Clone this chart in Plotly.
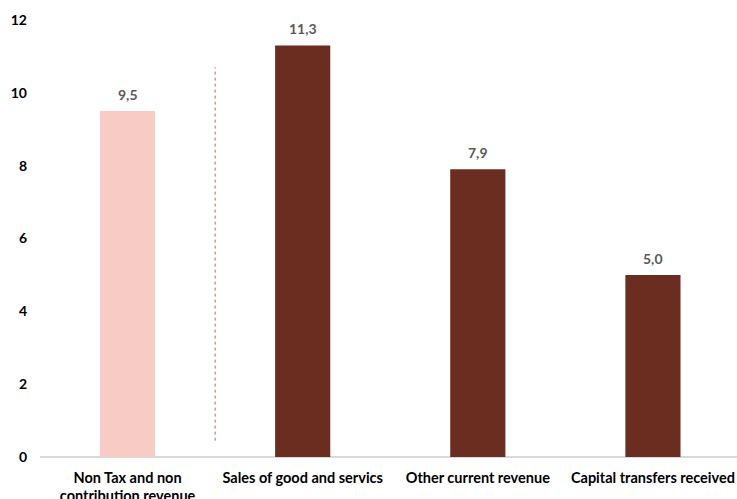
import plotly.graph_objects as go

categories = ["Non Tax and non<br>contribution revenue", "Sales of good and servics",
              "Other current revenue", "Capital transfers received"]
values = [9.5, 11.3, 7.9, 5.0]
labels = ["9,5", "11,3", "7,9", "5,0"]
colors = ["#F8CBC5", "#6B2D1F", "#6B2D1F", "#6B2D1F"]
y_ticks = [0, 2, 4, 6, 8, 10, 12]

font_family = "Lato, 'Open Sans', sans-serif"
positions = list(range(len(values)))

fig = go.Figure()
fig.add_trace(go.Bar(
    x=positions, y=values, marker=dict(color=colors, line=dict(width=0)),
    width=0.315, hoverinfo="skip",
))

for xi, v, lab in zip(positions, values, labels):
    fig.add_annotation(x=xi, y=v, text=lab, showarrow=False, yanchor="bottom",
                       yshift=6, font=dict(family=font_family, size=14,
                                           color="#595959", weight="bold"))

fig.add_shape(type="line", xref="x", yref="y", x0=0.5, x1=0.5, y0=0.45, y1=10.7,
              line=dict(color="#B06A60", width=1, dash="dot"))

fig.update_layout(
    width=737, height=499,
    margin=dict(l=40, r=0, t=20, b=42),
    plot_bgcolor="white", paper_bgcolor="white",
    showlegend=False,
    font=dict(family=font_family, size=14, color="#000000"),
    xaxis=dict(
        range=[-0.5, 3.48], tickvals=positions, ticktext=categories,
        showgrid=False, zeroline=False, showline=False, ticks="",
        ticklabelstandoff=10, automargin=False,
        tickfont=dict(family=font_family, size=14.5, color="#000000", weight="bold"),
    ),
    yaxis=dict(
        range=[0, 12], tickvals=y_ticks, showgrid=False, zeroline=True,
        zerolinecolor="#D9D9D9", zerolinewidth=1.5, showline=False, ticks="",
        ticklabelstandoff=12, automargin=False,
        tickfont=dict(family=font_family, size=14, color="#000000", weight="bold"),
    ),
)

fig.write_html("out.html")
